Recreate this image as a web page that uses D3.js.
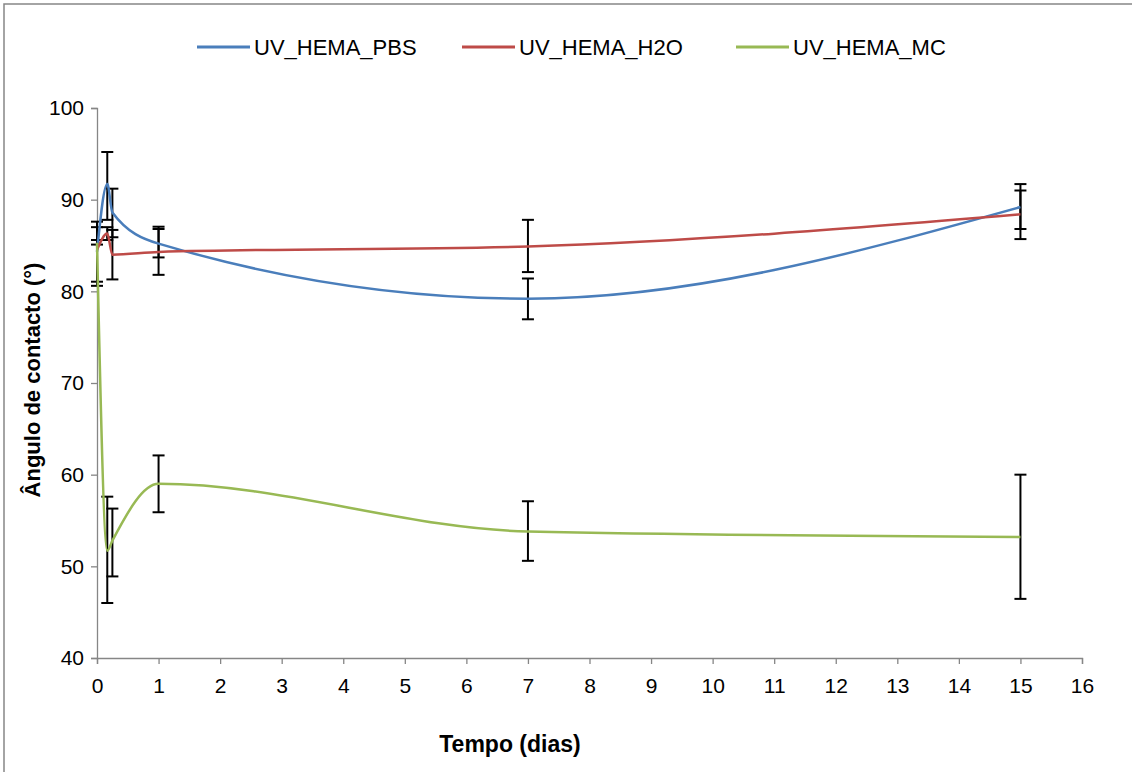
<!DOCTYPE html>
<html>
<head>
<meta charset="utf-8">
<script src="https://cdn.jsdelivr.net/npm/d3@7"></script>
<style>
  body { margin: 0; background: #fff; }
  text { font-family: "Liberation Sans", Arial, sans-serif; }
</style>
</head>
<body>
<svg id="chart" width="1132" height="772"></svg>
<script>
// ---- data ----
const time = [0, 0.167, 0.25, 1, 7, 15];
const seriesNames = ["UV_HEMA_PBS", "UV_HEMA_H2O", "UV_HEMA_MC"];
const pbs = [84.3, 91.7, 88.6, 85.2, 79.2, 89.2];
const h2o = [84.5, 86.3, 84.0, 84.3, 84.9, 88.4];
const mc  = [85.3, 51.7, 52.8, 59.0, 53.8, 53.2];
const pbsLow  = [80.6, 87.8, 85.9, 83.7, 76.95, 86.8];
const pbsHigh = [87.6, 95.2, 91.2, 87.05, 81.4, 91.7];
const h2oLow  = [81.05, 85.6, 81.3, 81.8, 82.1, 85.7];
const h2oHigh = [87.0, 87.0, 86.7, 86.8, 87.8, 91.0];
const mcLow   = [85.1, 46.0, 48.9, 55.9, 50.6, 46.45];
const mcHigh  = [85.6, 57.6, 56.3, 62.1, 57.1, 60.0];
const xTicks = d3.range(0, 17, 1);
const yTicks = [40, 50, 60, 70, 80, 90, 100];
const xTitle = "Tempo (dias)";
const yTitle = "Ângulo de contacto (°)";

const colors = ["#4A7EBB", "#BE4B48", "#98B954"];
const series = [
  { name: seriesNames[0], values: pbs, low: pbsLow, high: pbsHigh, color: colors[0] },
  { name: seriesNames[1], values: h2o, low: h2oLow, high: h2oHigh, color: colors[1] },
  { name: seriesNames[2], values: mc,  low: mcLow,  high: mcHigh,  color: colors[2] }
];

const svg = d3.select("#chart");
const axisColor = "#868686";

// chart border
svg.append("rect").attr("x", 4).attr("y", 4).attr("width", 1140).attr("height", 780)
  .attr("fill", "none").attr("stroke", axisColor).attr("stroke-width", 1.5);

const x = d3.scaleLinear().domain([0, 16]).range([97, 1082]);
const y = d3.scaleLinear().domain([40, 100]).range([658, 108]);

// axes
const xAxis = svg.append("g").attr("transform", `translate(0,${y(40)})`)
  .call(d3.axisBottom(x).tickValues(xTicks).tickSize(6).tickPadding(14).tickFormat(d3.format("d")));
const yAxis = svg.append("g").attr("transform", `translate(${x(0)},0)`)
  .call(d3.axisLeft(y).tickValues(yTicks).tickSize(6).tickPadding(7).tickFormat(d3.format("d")));
[xAxis, yAxis].forEach(g => {
  g.select(".domain").attr("stroke", axisColor).attr("stroke-width", 1.3);
  g.selectAll(".tick line").attr("stroke", axisColor).attr("stroke-width", 1.3);
  g.selectAll(".tick text").attr("fill", "#000").style("font-size", "21px")
   .style("font-family", '"Liberation Sans", Arial, sans-serif');
});

// error bars
const capHalf = 6;
series.forEach(s => {
  const g = svg.append("g");
  time.forEach((t, i) => {
    const cx = x(t);
    g.append("line").attr("x1", cx).attr("x2", cx).attr("y1", y(s.low[i])).attr("y2", y(s.high[i]))
      .attr("stroke", "#000").attr("stroke-width", 2);
    [s.low[i], s.high[i]].forEach(v => {
      g.append("line").attr("x1", cx - capHalf).attr("x2", cx + capHalf).attr("y1", y(v)).attr("y2", y(v))
        .attr("stroke", "#000").attr("stroke-width", 2);
    });
  });
});

// lines
const line = d3.line().x(d => x(d[0])).y(d => y(d[1])).curve(d3.curveMonotoneX);
series.forEach(s => {
  svg.append("path").datum(time.map((t, i) => [t, s.values[i]]))
    .attr("d", line).attr("fill", "none").attr("stroke", s.color).attr("stroke-width", 2.5);
});

// legend
const legendX = [197, 462, 736];
series.forEach((s, i) => {
  svg.append("line").attr("x1", legendX[i]).attr("x2", legendX[i] + 53).attr("y1", 47).attr("y2", 47)
    .attr("stroke", s.color).attr("stroke-width", 3);
  svg.append("text").attr("x", legendX[i] + 57).attr("y", 55).text(s.name)
    .style("font-size", "22px").attr("fill", "#000");
});

// titles
svg.append("text").attr("x", 510).attr("y", 752).attr("text-anchor", "middle")
  .style("font-size", "23px").style("font-weight", "bold").text(xTitle);
svg.append("text").attr("transform", "translate(40,380) rotate(-90)").attr("text-anchor", "middle")
  .style("font-size", "22px").style("font-weight", "bold").text(yTitle);
</script>
</body>
</html>
